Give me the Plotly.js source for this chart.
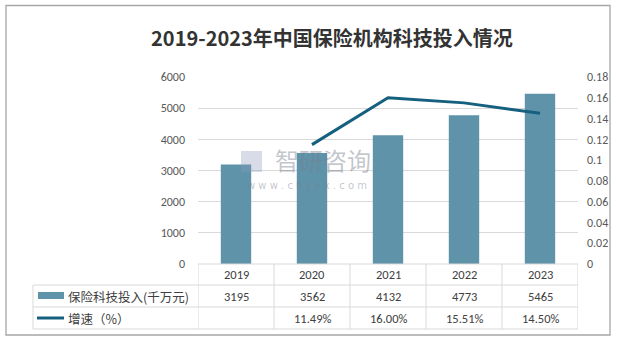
<!DOCTYPE html>
<html>
<head>
<meta charset="utf-8">
<script src="https://cdn.plot.ly/plotly-3.0.1.min.js"></script>
<style>html,body{margin:0;padding:0;background:#fff;}#chart{width:617px;height:340px;}</style>
</head>
<body>
<div id="chart"></div>
<script>
var years = ['2019', '2020', '2021', '2022', '2023'];
var investment = [3195, 3562, 4132, 4773, 5465];
var growth = [null, 0.1149, 0.16, 0.1551, 0.145];
var growthLabels = ['', '11.49%', '16.00%', '15.51%', '14.50%'];
var seriesNames = ['保险科技投入(千万元)', '增速（%）'];
var titleText = '2019-2023年中国保险机构科技投入情况';

var W = 617, H = 340;
var L = 198, R = 39, T = 77, B = 76;
var PW = W - L - R, PH = H - T - B;
function px(x) { return (x - L) / PW; }
function py(y) { return (H - B - y) / PH; }

var barColor = '#5f93a9';
var lineColor = '#16607f';
var gridColor = '#d9d9d9';
var textColor = '#404040';
var font = 'Calibri, Carlito, "Noto Sans CJK SC", "Liberation Sans", sans-serif';

var traces = [
  {type: 'bar', x: years, y: investment, marker: {color: barColor}, name: seriesNames[0], hoverinfo: 'none'},
  {type: 'scatter', mode: 'lines', x: years, y: growth, yaxis: 'y2', line: {color: lineColor, width: 3}, name: seriesNames[1], connectgaps: false, hoverinfo: 'none'}
];

var shapes = [];
var annotations = [];
// outer frame
shapes.push({type: 'rect', xref: 'paper', yref: 'paper', x0: px(6), x1: px(610), y0: py(335), y1: py(5.5), line: {color: '#a6a6a6', width: 1.3}});
// table lines
var rowY = [264, 285, 307, 329];
shapes.push({type: 'line', xref: 'paper', yref: 'paper', x0: px(198), x1: px(578), y0: py(264), y1: py(264), line: {color: gridColor, width: 1}});
for (var r = 1; r < rowY.length; r++) {
  shapes.push({type: 'line', xref: 'paper', yref: 'paper', x0: px(33), x1: px(578), y0: py(rowY[r]), y1: py(rowY[r]), line: {color: gridColor, width: 1}});
}
shapes.push({type: 'line', xref: 'paper', yref: 'paper', x0: px(33), x1: px(33), y0: py(285), y1: py(329), line: {color: gridColor, width: 1}});
for (var i = 0; i <= years.length; i++) {
  var xb = i - 0.5;
  shapes.push({type: 'line', xref: 'x', yref: 'paper', x0: xb, x1: xb, y0: py(264), y1: py(329), line: {color: gridColor, width: 1}});
}
// legend keys
shapes.push({type: 'rect', xref: 'paper', yref: 'paper', x0: px(38), x1: px(64), y0: py(299), y1: py(292), fillcolor: barColor, line: {width: 0}});
shapes.push({type: 'line', xref: 'paper', yref: 'paper', x0: px(37), x1: px(64), y0: py(318), y1: py(318), line: {color: lineColor, width: 3}});

annotations.push({xref: 'paper', yref: 'paper', x: px(66), y: py(296), text: seriesNames[0], showarrow: false, xanchor: 'left', yanchor: 'middle', font: {family: '"Noto Sans CJK SC", sans-serif', size: 12.5, color: textColor}});
annotations.push({xref: 'paper', yref: 'paper', x: px(66), y: py(318), text: seriesNames[1], showarrow: false, xanchor: 'left', yanchor: 'middle', font: {family: '"Noto Sans CJK SC", sans-serif', size: 12.5, color: textColor}});

for (var k = 0; k < years.length; k++) {
  annotations.push({xref: 'x', yref: 'paper', x: k, y: py(274.5), text: years[k], showarrow: false, xanchor: 'center', yanchor: 'middle', font: {family: font, size: 12.5, color: textColor}});
  annotations.push({xref: 'x', yref: 'paper', x: k, y: py(296), text: String(investment[k]), showarrow: false, xanchor: 'center', yanchor: 'middle', font: {family: font, size: 12.5, color: textColor}});
  if (growthLabels[k]) annotations.push({xref: 'x', yref: 'paper', x: k, y: py(318), text: growthLabels[k], showarrow: false, xanchor: 'center', yanchor: 'middle', font: {family: font, size: 12.5, color: textColor}});
}
// watermark
annotations.push({xref: 'paper', yref: 'paper', x: px(323), y: py(159), text: '智研咨询', showarrow: false, xanchor: 'center', yanchor: 'middle', font: {family: '"Noto Sans CJK SC", sans-serif', size: 24, color: 'rgba(120,125,140,0.45)'}});
annotations.push({xref: 'paper', yref: 'paper', x: px(307), y: py(185), text: 'w w w . c h y x x . c o m', showarrow: false, xanchor: 'center', yanchor: 'middle', font: {family: '"DejaVu Sans", sans-serif', size: 10, color: 'rgba(120,125,140,0.45)'}});
shapes.push({type: 'rect', xref: 'paper', yref: 'paper', x0: px(241), x1: px(262), y0: py(172), y1: py(151), fillcolor: 'rgba(140,155,190,0.35)', line: {width: 0}});

var layout = {
  width: W, height: H,
  margin: {l: L, r: R, t: T, b: B, pad: 0},
  paper_bgcolor: '#ffffff', plot_bgcolor: '#ffffff',
  showlegend: false,
  bargap: 0.6,
  title: {text: '<b>' + titleText + '</b>', x: 0.538, xanchor: 'center', y: 0.885, yanchor: 'middle', font: {family: '"Noto Sans CJK SC", sans-serif', size: 20, color: '#333333'}},
  xaxis: {type: 'category', range: [-0.5, 4.5], showticklabels: false, showgrid: false, zeroline: false, showline: false, ticks: ''},
  yaxis: {range: [0, 6000], dtick: 1000, tickmode: 'linear', showgrid: true, gridcolor: gridColor, gridwidth: 1, zeroline: false, showline: false, ticks: '', ticklabelstandoff: 12, tickfont: {family: font, size: 12, color: '#595959'}},
  yaxis2: {overlaying: 'y', side: 'right', range: [0, 0.18], dtick: 0.02, tickmode: 'linear', showgrid: false, zeroline: false, showline: false, ticks: '', ticklabelstandoff: 8, tickfont: {family: font, size: 12, color: '#595959'}},
  shapes: shapes,
  annotations: annotations
};

Plotly.newPlot('chart', traces, layout, {staticPlot: true, displayModeBar: false});
</script>
</body>
</html>
